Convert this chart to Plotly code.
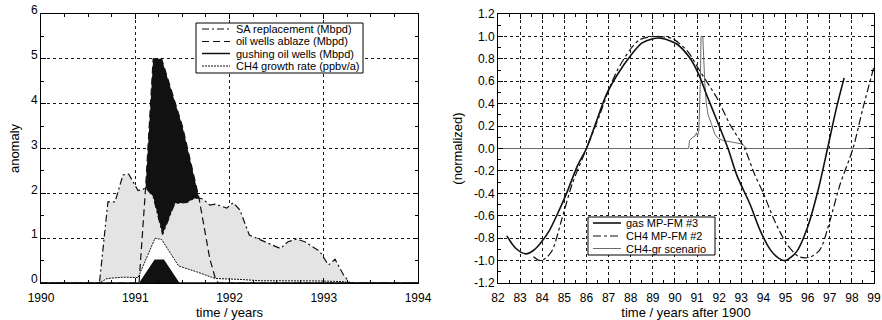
import plotly.graph_objects as go

# ---------------- left panel: Gulf War oil-field anomalies ----------------
sa_years = [1990.0, 1990.62, 1990.71, 1990.785, 1990.87, 1990.93, 1991.03, 1991.085, 1991.11,
            1991.19, 1991.29, 1991.42, 1991.47, 1991.55, 1991.62, 1991.67, 1991.72, 1991.79,
            1991.85, 1991.9, 1991.97, 1992.04, 1992.11, 1992.21, 1992.32, 1992.54, 1992.62,
            1992.71, 1992.8, 1992.96, 1993.05, 1993.12, 1993.21, 1993.28, 1994.0]
sa_values = [0, 0, 1.81, 1.81, 2.41, 2.43, 2.06, 2.09, 2.13,
             1.93, 1.08, 1.78, 1.78, 1.80, 1.88, 1.90, 1.87, 1.74,
             1.76, 1.72, 1.67, 1.79, 1.63, 1.07, 0.97, 0.77, 0.92,
             0.98, 0.92, 0.70, 0.40, 0.53, 0.18, 0, 0]

ablaze_years = [1990.0, 1991.04, 1991.11, 1991.19, 1991.28, 1991.50, 1991.676, 1991.79, 1991.85, 1991.88, 1994.0]
ablaze_values = [0, 0, 2.13, 5.0, 5.0, 3.5, 1.90, 0.55, 0.10, 0, 0]

gushing_years = [1990.0, 1991.05, 1991.21, 1991.30, 1991.46, 1994.0]
gushing_values = [0, 0, 0.51, 0.51, 0, 0]

ch4gr_years = [1990.0, 1990.62, 1990.70, 1990.87, 1991.03, 1991.21, 1991.28, 1991.46, 1991.65,
               1991.85, 1992.11, 1992.33, 1992.95, 1993.21, 1993.28, 1994.0]
ch4gr_values = [0, 0, 0.10, 0.13, 0.12, 1.0, 0.97, 0.38, 0.25,
                0.10, 0.08, 0.05, 0.045, 0.03, 0, 0]

left_xticks = [1990, 1991, 1992, 1993, 1994]
left_yticks = [0, 1, 2, 3, 4, 5, 6]
left_names = ["SA replacement (Mbpd)", "oil wells ablaze (Mbpd)",
              "gushing oil wells (Mbpd)", "CH4 growth rate (ppbv/a)"]

# ---------------- right panel: normalized model curves ----------------
gas_years = [82.4, 82.8, 83.25, 83.6, 83.9, 84.3, 84.65, 85.1, 85.6, 86.0, 86.5, 86.9, 87.4,
             88.0, 88.5, 89.0, 89.35, 89.8, 90.1, 90.7, 91.1, 91.45, 91.9, 92.4, 92.8, 93.4,
             93.85, 94.3, 94.7, 95.0, 95.5, 96.0, 96.5, 96.9, 97.3, 97.65]
gas_values = [-0.78, -0.89, -0.94, -0.91, -0.85, -0.74, -0.60, -0.40, -0.15, 0.0, 0.27, 0.48, 0.66,
              0.83, 0.94, 0.98, 0.985, 0.96, 0.93, 0.80, 0.65, 0.47, 0.25, 0.0, -0.24, -0.50,
              -0.73, -0.90, -0.98, -1.0, -0.92, -0.70, -0.35, 0.0, 0.36, 0.63]

ch4fm_years = [83.6, 83.9, 84.15, 84.45, 84.9, 85.35, 86.0, 86.6, 87.0, 87.4, 88.0, 88.4, 89.0,
               89.5, 89.9, 90.6, 91.1, 91.9, 92.5, 93.15, 93.6, 94.0, 94.45, 95.05, 95.6, 96.1,
               96.55, 97.0, 97.45, 98.05, 98.5, 99.0]
ch4fm_values = [-0.965, -1.0, -0.98, -0.91, -0.62, -0.32, 0.0, 0.30, 0.52, 0.70, 0.89, 0.97, 1.0,
                0.995, 0.98, 0.86, 0.70, 0.45, 0.21, 0.0, -0.23, -0.40, -0.62, -0.85, -0.965, -0.97,
                -0.905, -0.65, -0.33, 0.0, 0.36, 0.73]

scen_years = [82.0, 90.62, 90.66, 90.8, 90.9, 90.98, 91.02, 91.08, 91.15, 91.18, 91.26, 91.3,
              91.35, 91.42, 91.5, 91.65, 91.8, 91.95, 92.2, 92.5, 92.8, 93.05, 93.25, 99.0]
scen_values = [0, 0, 0.07, 0.10, 0.11, 0.14, 0.11, 0.16, 0.60, 1.0, 1.0, 0.80,
               0.58, 0.40, 0.30, 0.22, 0.13, 0.09, 0.07, 0.06, 0.05, 0.04, 0.0, 0]

right_xticks = list(range(82, 100))
right_yticks = [-1.2, -1.0, -0.8, -0.6, -0.4, -0.2, 0.0, 0.2, 0.4, 0.6, 0.8, 1.0, 1.2]
right_names = ["gas MP-FM #3", "CH4 MP-FM #2", "CH4-gr scenario"]

FONT = "Arial, Liberation Sans, Helvetica, sans-serif"
BLACK = "#111111"
GRAY_FILL = "#e4e4e4"

# line styles shared by the curves and their key entries
sa_line = dict(color=BLACK, width=1.2, dash="7px,3px,2px,3px")
ablaze_line = dict(color=BLACK, width=1.2, dash="7px,4px")
gushing_line = dict(color=BLACK, width=1.5)
ch4gr_line = dict(color=BLACK, width=1, dash="2px,1px")
gas_line = dict(color=BLACK, width=1.6)
ch4fm_line = dict(color=BLACK, width=1.2, dash="8px,3px,3px,3px")
scen_line = dict(color="#6a6a6a", width=1)

fig = go.Figure()

# filled areas first, so every outline is drawn on top of them
for xs, ys, col in [(ablaze_years, ablaze_values, BLACK), (sa_years, sa_values, GRAY_FILL),
                    (ch4gr_years, ch4gr_values, "white"), (gushing_years, gushing_values, BLACK)]:
    fig.add_trace(go.Scatter(x=xs, y=ys, mode="lines", fill="tozeroy", fillcolor=col,
                             line=dict(width=0), showlegend=False, hoverinfo="skip",
                             xaxis="x", yaxis="y"))

# left panel outlines
for xs, ys, name, ln in [(sa_years, sa_values, left_names[0], sa_line),
                         (ablaze_years, ablaze_values, left_names[1], ablaze_line),
                         (gushing_years, gushing_values, left_names[2], gushing_line),
                         (ch4gr_years, ch4gr_values, left_names[3], ch4gr_line)]:
    fig.add_trace(go.Scatter(x=xs, y=ys, mode="lines", name=name, line=ln,
                             showlegend=False, xaxis="x", yaxis="y"))

# right panel curves
fig.add_trace(go.Scatter(x=scen_years, y=scen_values, mode="lines", name=right_names[2],
                         line=scen_line, showlegend=False, xaxis="x2", yaxis="y2"))
fig.add_trace(go.Scatter(x=gas_years, y=gas_values, mode="lines", name=right_names[0],
                         line=dict(gas_line, shape="spline", smoothing=0.8),
                         showlegend=False, xaxis="x2", yaxis="y2"))
fig.add_trace(go.Scatter(x=ch4fm_years, y=ch4fm_values, mode="lines", name=right_names[1],
                         line=dict(ch4fm_line, shape="spline", smoothing=0.8),
                         showlegend=False, xaxis="x2", yaxis="y2"))

W, H = 882, 320
def px_x(p):
    return p / W
def px_y(p):
    return 1 - p / H

# compact boxed keys (rows are tighter than the built-in legend allows)
def add_key(x0, x1, y0, y1, sample_x0, sample_x1, text_x, rows):
    fig.add_shape(type="rect", xref="paper", yref="paper",
                  x0=px_x(x0), x1=px_x(x1), y0=px_y(y1), y1=px_y(y0),
                  line=dict(color="black", width=1), fillcolor="white", layer="above")
    for yc, name, ln in rows:
        fig.add_shape(type="line", xref="paper", yref="paper",
                      x0=px_x(sample_x0), x1=px_x(sample_x1), y0=px_y(yc), y1=px_y(yc),
                      line=dict(color=ln["color"], width=ln["width"], dash=ln.get("dash", "solid")),
                      layer="above")
        fig.add_annotation(x=px_x(text_x), y=px_y(yc), xref="paper", yref="paper",
                           text=name, showarrow=False, xanchor="left", yanchor="middle",
                           borderpad=0, height=12,
                           font=dict(family=FONT, size=11, color="black"))

add_key(196, 363, 23, 73, 202, 230, 235,
        [(29, left_names[0], sa_line), (41.5, left_names[1], ablaze_line),
         (53.5, left_names[2], gushing_line), (66, left_names[3], ch4gr_line)])
add_key(588, 715, 217, 255, 593, 621, 625,
        [(223, right_names[0], gas_line), (236, right_names[1], ch4fm_line),
         (248.5, right_names[2], scen_line)])

axis_common = dict(
    showline=True, linecolor="black", linewidth=1, mirror="allticks",
    ticks="inside", ticklen=5, tickcolor="black", tickwidth=1,
    showgrid=True, gridcolor="#1a1a1a", gridwidth=1, griddash="dot",
    zeroline=False, automargin=False,
    tickfont=dict(family=FONT, size=12, color="black"),
    title_font=dict(family=FONT, size=13, color="black"),
)

fig.update_layout(
    width=W, height=H,
    margin=dict(l=0, r=0, t=0, b=0),
    paper_bgcolor="white", plot_bgcolor="white",
    font=dict(family=FONT, color="black"),
    showlegend=False,
    xaxis=dict(axis_common, domain=[px_x(41), px_x(418)], anchor="y", range=[1990, 1994],
               tickvals=left_xticks, ticklabelstandoff=4,
               minor=dict(ticks="inside", ticklen=3, dtick=0.25, tickcolor="black", showgrid=False),
               title=dict(text="time / years", standoff=3)),
    yaxis=dict(axis_common, domain=[px_y(283), px_y(14)], anchor="x", range=[0, 6],
               tickvals=left_yticks, ticklabelshift=-4,
               minor=dict(ticks="inside", ticklen=3, dtick=0.5, tickcolor="black", showgrid=False),
               title=dict(text="anomaly", standoff=8)),
    xaxis2=dict(axis_common, domain=[px_x(498), px_x(874)], anchor="y2", range=[82, 99],
                tickvals=right_xticks, ticklabelstandoff=4,
                minor=dict(ticks="inside", ticklen=3, dtick=0.5, tickcolor="black", showgrid=False),
                title=dict(text="time / years after 1900", standoff=3)),
    yaxis2=dict(axis_common, domain=[px_y(283), px_y(14)], anchor="x2", range=[-1.2, 1.2],
                tickvals=right_yticks, ticktext=[f"{v:.1f}" for v in right_yticks],
                minor=dict(ticks="inside", ticklen=3, dtick=0.1, tickcolor="black", showgrid=False),
                title=dict(text="(normalized)", standoff=8)),
)

fig.write_html("out.html")
